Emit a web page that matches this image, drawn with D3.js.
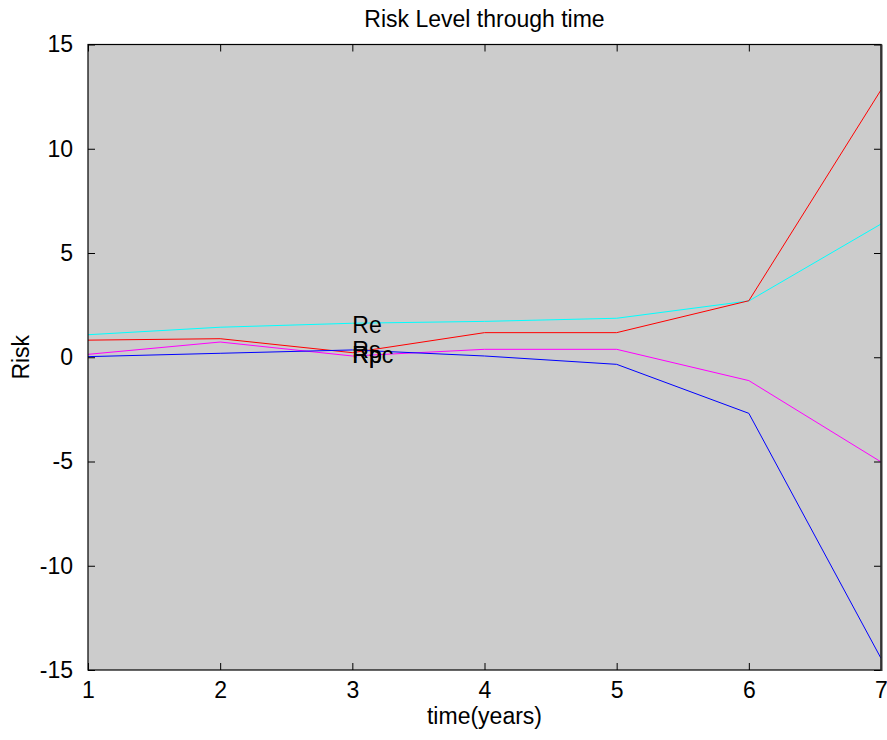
<!DOCTYPE html>
<html>
<head>
<meta charset="utf-8">
<script src="https://cdn.jsdelivr.net/npm/d3@7"></script>
<style>
  html, body { margin: 0; padding: 0; background: #fff; }
  svg { display: block; font-family: "Liberation Sans", Arial, sans-serif; }
</style>
</head>
<body>
<svg id="chart" width="887" height="740"></svg>
<script>
// ---- data ----
const years = [1, 2, 3, 4, 5, 6, 7];
const cyanSeries    = [1.08, 1.44, 1.63, 1.72, 1.87, 2.70, 6.39];
const redSeries     = [0.82, 0.89, 0.22, 1.18, 1.18, 2.71, 12.82];
const magentaSeries = [0.14, 0.73, 0.06, 0.38, 0.38, -1.12, -5.02];
const blueSeries    = [0.03, 0.19, 0.35, 0.06, -0.34, -2.69, -14.44];
const seriesColors  = ["#00ffff", "#ff0000", "#ff00ff", "#0000ff"];
const labelNames    = ["Re", "Rs", "Rp", "Rpc"];
const labelX        = [3, 3, 3, 3];
const labelY        = [1.55, 0.38, 0.13, 0.13];
const xTicks = [1, 2, 3, 4, 5, 6, 7];
const yTicks = [-15, -10, -5, 0, 5, 10, 15];

const svg = d3.select("#chart");
const m = { left: 88, right: 881, top: 44.5, bottom: 670 };
const x = d3.scaleLinear().domain([1, 7]).range([m.left, m.right]);
const y = d3.scaleLinear().domain([-15, 15]).range([m.bottom, m.top]);
const fs = 23;

svg.append("rect")
  .attr("x", m.left).attr("y", m.top)
  .attr("width", m.right - m.left).attr("height", m.bottom - m.top)
  .attr("fill", "#cccccc");

const allSeries = [cyanSeries, redSeries, magentaSeries, blueSeries];
const line = d3.line().x((d, i) => x(years[i])).y(d => y(d));
svg.append("g")
  .selectAll("path").data(allSeries).join("path")
  .attr("d", d => line(d))
  .attr("fill", "none")
  .attr("stroke", (d, i) => seriesColors[i])
  .attr("stroke-width", 1);

// text labels
svg.append("g").selectAll("text").data(labelNames).join("text")
  .attr("x", (d, i) => x(labelX[i]))
  .attr("y", (d, i) => y(labelY[i]))
  .attr("dy", "0.36em")
  .attr("font-size", fs)
  .attr("fill", "#000")
  .text(d => d);

// axes (ticks inward on all four sides)
const tl = 7;
const fmt = d => String(d);
const bottomAxis = d3.axisBottom(x).tickValues(xTicks).tickSize(-tl).tickPadding(tl + 5).tickFormat(fmt);
const topAxis = d3.axisTop(x).tickValues(xTicks).tickSize(-tl).tickFormat("");
const leftAxis = d3.axisLeft(y).tickValues(yTicks).tickSize(-tl).tickPadding(tl + 8).tickFormat(fmt);
const rightAxis = d3.axisRight(y).tickValues(yTicks).tickSize(-tl).tickFormat("");

function style(g) {
  g.select(".domain").remove();
  g.selectAll(".tick line").attr("stroke", "#000");
  g.selectAll(".tick text").attr("font-size", fs).attr("fill", "#000")
    .attr("font-family", "Liberation Sans, Arial, sans-serif");
}
svg.append("g").attr("transform", `translate(0,${m.bottom})`).call(bottomAxis).call(style);
svg.append("g").attr("transform", `translate(0,${m.top})`).call(topAxis).call(style);
svg.append("g").attr("transform", `translate(${m.left},0)`).call(leftAxis).call(style);
svg.append("g").attr("transform", `translate(${m.right},0)`).call(rightAxis).call(style);

// frame
svg.append("rect")
  .attr("x", m.left).attr("y", m.top)
  .attr("width", m.right - m.left).attr("height", m.bottom - m.top)
  .attr("fill", "none").attr("stroke", "#000").attr("stroke-width", 1.2);
svg.append("line")
  .attr("x1", m.right + 0.5).attr("x2", m.right + 0.5)
  .attr("y1", m.top).attr("y2", m.bottom + 1)
  .attr("stroke", "#333").attr("stroke-width", 2);

// titles
svg.append("text").attr("x", (m.left + m.right) / 2).attr("y", 26.5)
  .attr("text-anchor", "middle").attr("font-size", fs).text("Risk Level through time");
svg.append("text").attr("x", (m.left + m.right) / 2).attr("y", 724)
  .attr("text-anchor", "middle").attr("font-size", fs).text("time(years)");
svg.append("text").attr("transform", `translate(29,${(m.top + m.bottom) / 2}) rotate(-90)`)
  .attr("text-anchor", "middle").attr("font-size", fs).text("Risk");
</script>
</body>
</html>
